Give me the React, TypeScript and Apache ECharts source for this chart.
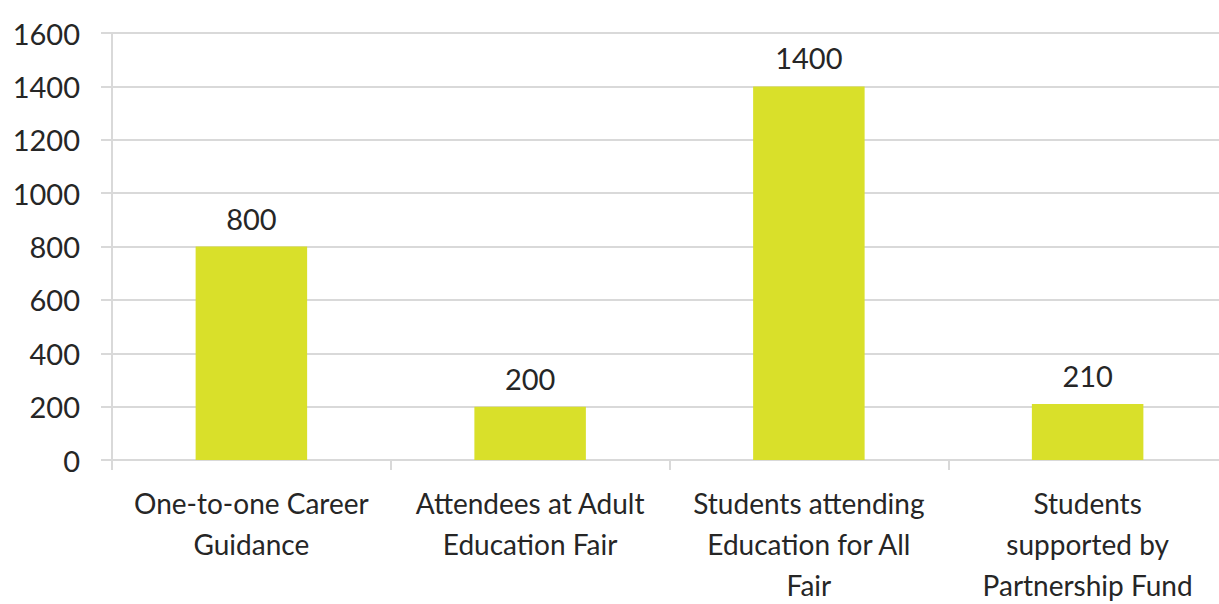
import React, { useEffect, useRef } from "react";
import * as echarts from "echarts";

const categories = [
  "One-to-one Career\nGuidance",
  "Attendees at Adult\nEducation Fair",
  "Students attending\nEducation for All\nFair",
  "Students\nsupported by\nPartnership Fund",
];
const values = [800, 200, 1400, 210];
const yMin = 0;
const yMax = 1600;
const yInterval = 200;

const FONT = "Lato, 'Noto Sans', sans-serif";
const TEXT = "#262626";
const GRID = "#d9d9d9";

export default function App() {
  const ref = useRef<HTMLDivElement>(null);
  useEffect(() => {
    if (!ref.current) return;
    const chart = echarts.init(ref.current, undefined, { renderer: "svg" });
    chart.setOption({
      animation: false,
      backgroundColor: "#ffffff",
      grid: {
        left: 112,
        top: 33,
        width: 1115,
        height: 427,
        containLabel: false,
        outerBoundsMode: "none",
      },
      xAxis: {
        type: "category",
        data: categories,
        boundaryGap: true,
        axisLine: { show: true, lineStyle: { color: GRID, width: 2 } },
        axisTick: { show: true, length: 10, lineStyle: { color: GRID, width: 2 } },
        axisLabel: {
          interval: 0,
          margin: 22,
          color: TEXT,
          fontSize: 28,
          fontFamily: FONT,
          lineHeight: 41,
        },
      },
      yAxis: {
        type: "value",
        min: yMin,
        max: yMax,
        interval: yInterval,
        axisLine: { show: true, lineStyle: { color: GRID, width: 2 } },
        axisTick: { show: true, length: 11, lineStyle: { color: GRID, width: 2 } },
        splitLine: { show: true, lineStyle: { color: GRID, width: 2 } },
        axisLabel: {
          margin: 32,
          color: TEXT,
          fontSize: 29,
          fontFamily: FONT,
          formatter: (v: number) => String(v),
        },
      },
      series: [
        {
          type: "bar",
          data: values,
          barWidth: "40%",
          itemStyle: { color: "#d9e02a" },
          label: {
            show: true,
            position: "top",
            distance: 14,
            color: TEXT,
            fontSize: 29,
            fontFamily: FONT,
          },
        },
      ],
    });
    return () => chart.dispose();
  }, []);
  return (
    <div
      ref={ref}
      style={{ position: "fixed", left: 0, top: 0, width: 1219, height: 604 }}
    />
  );
}
